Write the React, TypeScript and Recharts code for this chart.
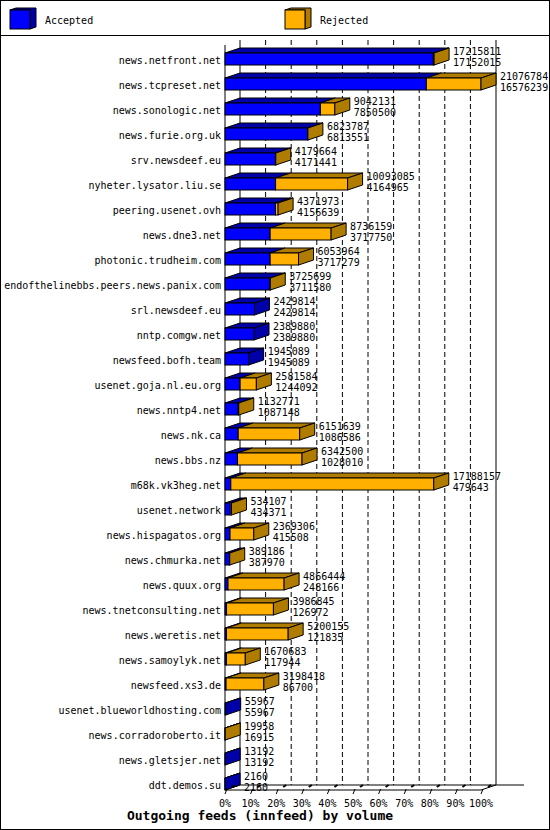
import React from "react";
import { BarChart, Bar, XAxis, YAxis, CartesianGrid, Legend } from "recharts";

// innfeed outgoing volume per peer: offered total and accepted part
const hosts = [
  "news.netfront.net",
  "news.tcpreset.net",
  "news.sonologic.net",
  "news.furie.org.uk",
  "srv.newsdeef.eu",
  "nyheter.lysator.liu.se",
  "peering.usenet.ovh",
  "news.dne3.net",
  "photonic.trudheim.com",
  "endofthelinebbs.peers.news.panix.com",
  "srl.newsdeef.eu",
  "nntp.comgw.net",
  "newsfeed.bofh.team",
  "usenet.goja.nl.eu.org",
  "news.nntp4.net",
  "news.nk.ca",
  "news.bbs.nz",
  "m68k.vk3heg.net",
  "usenet.network",
  "news.hispagatos.org",
  "news.chmurka.net",
  "news.quux.org",
  "news.tnetconsulting.net",
  "news.weretis.net",
  "news.samoylyk.net",
  "newsfeed.xs3.de",
  "usenet.blueworldhosting.com",
  "news.corradoroberto.it",
  "news.gletsjer.net",
  "ddt.demos.su",
];

const offered = [
  17215811, 21076784, 9042131, 6823787, 4179664, 10093085, 4371973, 8736159,
  6053964, 3725699, 2429814, 2389880, 1945089, 2581584, 1132771, 6151639,
  6342500, 17188157, 534107, 2369306, 389186, 4866444, 3986845, 5200155,
  1670683, 3198418, 55967, 19958, 13192, 2160,
];

const accepted = [
  17152015, 16576239, 7850500, 6813551, 4171441, 4164965, 4156639, 3717750,
  3717279, 3711580, 2429814, 2389880, 1945089, 1244092, 1087148, 1086586,
  1028010, 479643, 434371, 415508, 387970, 248166, 126972, 121835,
  117944, 86700, 55967, 16915, 13192, 2160,
];

const percentTicks = [0, 10, 20, 30, 40, 50, 60, 70, 80, 90, 100];

const data = hosts.map((host, i) => ({
  host,
  offered: offered[i],
  accepted: accepted[i],
  rejected: offered[i] - accepted[i],
}));

const maxVolume = Math.max(...offered);

const W = 550;
const H = 830;
const PLOT_W = 256;
const DX = 15; // 3d depth
const DY = 5;
const FACE = 12;
const FONT = "'DejaVu Sans Mono', monospace";

const BLUE = "#0000ff";
const GOLD = "#ffb000";
const dark: Record<string, string> = { [BLUE]: "#0000a8", [GOLD]: "#b07c00" };

const front = (x: number, w: number, bottom: number, fill: string) => {
  const top = bottom - FACE;
  return (
    <>
      <polygon
        points={`${x},${top} ${x + w},${top} ${x + w + DX},${top - DY} ${x + DX},${top - DY}`}
        fill={dark[fill]}
        stroke="#000"
      />
      <rect x={x} y={top} width={w} height={FACE} fill={fill} stroke="#000" />
    </>
  );
};

const side = (x: number, bottom: number, fill: string) => (
  <polygon
    points={`${x},${bottom - FACE} ${x + DX},${bottom - FACE - DY} ${x + DX},${bottom - DY} ${x},${bottom}`}
    fill={dark[fill]}
    stroke="#000"
  />
);

const AcceptedShape = (props: any) => {
  const { x, y, width, height, payload } = props;
  const bottom = y + height;
  return (
    <g>
      {front(x, width, bottom, BLUE)}
      {payload.rejected === 0 && side(x + width, bottom, BLUE)}
    </g>
  );
};

const RejectedShape = (props: any) => {
  const { x, y, width, height, payload } = props;
  const bottom = y + height;
  const end = x + width;
  return (
    <g>
      {payload.rejected > 0 && front(x, width, bottom, GOLD)}
      {payload.rejected > 0 && side(end, bottom, GOLD)}
      <text x={end + DX + 4} y={bottom - 10} fontSize={10} fontFamily={FONT} fill="#000">
        {payload.offered}
      </text>
      <text x={end + DX + 4} y={bottom + 1} fontSize={10} fontFamily={FONT} fill="#000">
        {payload.accepted}
      </text>
    </g>
  );
};

const HostTick = (props: any) => {
  const { x, y, payload } = props;
  return (
    <text x={x} y={y + 11} textAnchor="end" fontSize={10} fontFamily={FONT} fill="#000">
      {payload.value}
    </text>
  );
};

const PercentTick = (props: any) => {
  const { x, y, payload } = props;
  return (
    <g>
      <line x1={x} y1={y + 4} x2={x + 2} y2={y - 1} stroke="#000" />
      <line x1={x + 7} y1={y - 3} x2={x + 10} y2={y - 5} stroke="#000" strokeWidth={2} />
      <text x={x} y={y + 17} textAnchor="middle" fontSize={10} fontFamily={FONT} fill="#000">
        {`${Math.round((payload.value / maxVolume) * 100)}%`}
      </text>
    </g>
  );
};

const GridLine = (props: any) => {
  const { x1, y1, y2, index } = props;
  const edge = index === 0 || index === percentTicks.length - 1;
  return (
    <g key={`grid-${index}`}>
      <line
        x1={x1 + DX}
        y1={y1}
        x2={x1 + DX}
        y2={y2 - DY}
        stroke="#000"
        strokeDasharray={edge ? undefined : "5 3"}
      />
      {edge && <line x1={x1} y1={y2} x2={x1 + DX} y2={y2 - DY} stroke="#000" />}
      {index === 0 && (
        <>
          <line x1={x1} y1={y1 + DY} x2={x1} y2={y2} stroke="#000" />
          <line x1={x1 + DX} y1={y2 - DY} x2={x1 + DX + PLOT_W + 28} y2={y2 - DY} stroke="#000" />
        </>
      )}
    </g>
  );
};

const LegendContent = (props: any) => {
  const { payload } = props;
  return (
    <div style={{ width: W, height: 36, borderBottom: "1px solid #000", boxSizing: "border-box" }}>
      <svg width={W} height={35}>
        {payload.map((item: any, i: number) => {
          const x = 10 + i * 275;
          return (
            <g key={item.value}>
              <polygon
                points={`${x},10 ${x + 6},8 ${x + 26},8 ${x + 26},27 ${x + 20},29 ${x + 20},10`}
                fill={dark[item.color]}
                stroke="#000"
              />
              <rect x={x} y={10} width={20} height={19} fill={item.color} stroke="#000" />
              <text x={x + 35} y={24} fontSize={10} fontFamily={FONT} fill="#000">
                {item.value}
              </text>
            </g>
          );
        })}
      </svg>
    </div>
  );
};

const Title = (props: any) => {
  const { viewBox } = props;
  return (
    <text
      x={260}
      y={viewBox.y + 30}
      textAnchor="middle"
      fontSize={13}
      fontWeight="bold"
      fontFamily={FONT}
      fill="#000"
    >
      Outgoing feeds (innfeed) by volume
    </text>
  );
};

export default function App() {
  return (
    <div style={{ position: "absolute", left: 0, top: 0, width: W, height: H, background: "#fff" }}>
      <BarChart
        width={W}
        height={H}
        data={data}
        layout="vertical"
        barCategoryGap={0}
        barGap={0}
        margin={{ top: 4, right: W - 225 - PLOT_W, bottom: 0, left: 0 }}
      >
        <Legend
          verticalAlign="top"
          content={<LegendContent />}
          wrapperStyle={{ top: 0, left: 0, width: W, height: 36 }}
        />
        <CartesianGrid horizontal={false} vertical={GridLine} />
        <XAxis
          type="number"
          domain={[0, maxVolume]}
          ticks={percentTicks.map((p) => (p / 100) * maxVolume)}
          interval={0}
          height={40}
          tickSize={0}
          tickMargin={0}
          tickLine={false}
          axisLine={{ stroke: "#000" }}
          tick={<PercentTick />}
          label={<Title />}
        />
        <YAxis
          type="category"
          dataKey="host"
          width={225}
          interval={0}
          tickSize={0}
          tickMargin={4}
          tickLine={false}
          axisLine={false}
          tick={<HostTick />}
        />
        <Bar dataKey="accepted" name="Accepted" stackId="v" fill={BLUE} shape={AcceptedShape} isAnimationActive={false} />
        <Bar dataKey="rejected" name="Rejected" stackId="v" fill={GOLD} shape={RejectedShape} isAnimationActive={false} />
      </BarChart>
      <div
        style={{
          position: "absolute",
          inset: 0,
          border: "1px solid #000",
          boxSizing: "border-box",
          pointerEvents: "none",
        }}
      />
    </div>
  );
}
